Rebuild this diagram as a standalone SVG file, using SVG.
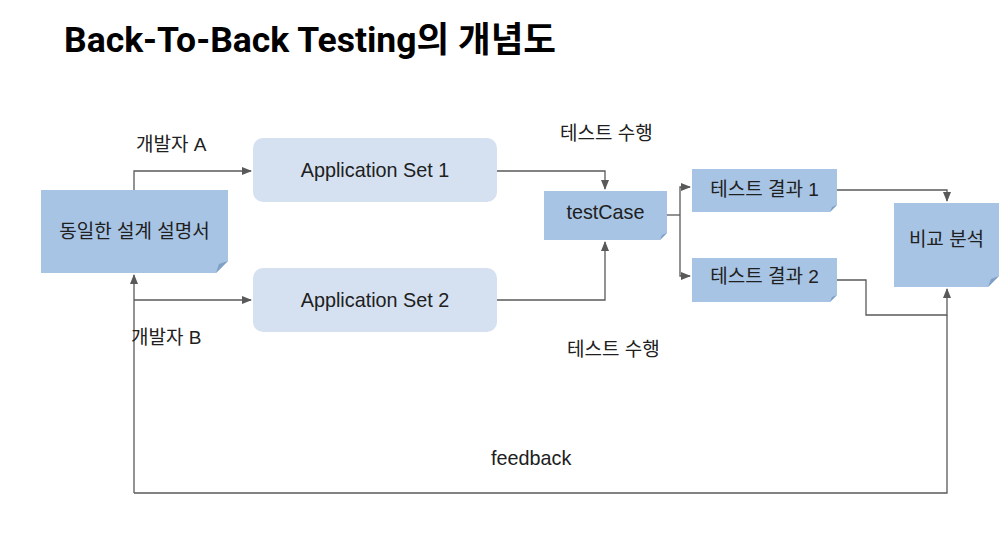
<svg xmlns="http://www.w3.org/2000/svg" width="1000" height="550" viewBox="0 0 1000 550">
<defs>
<marker id="ah" markerWidth="10" markerHeight="10" refX="9" refY="5" orient="auto" markerUnits="userSpaceOnUse">
<path d="M0,1 L10,5 L0,9 Z" fill="#595959"/>
</marker>
<style>
.t{font-family:"Liberation Sans","Noto Sans CJK KR",sans-serif;font-size:19px;fill:#202020}
.l{font-size:19.8px}
.title{font-family:Roboto,"Noto Sans CJK KR",sans-serif;font-size:35.5px;font-weight:bold;fill:#000}
.doc{fill:#a7c4e4}
.fold{fill:#7e9fc6}
.app{fill:#d5e1f1}
.c{fill:none;stroke:#595959;stroke-width:1.3}
</style>
</defs>
<rect width="1000" height="550" fill="#fff"/>
<text class="title" x="64" y="52">Back-To-Back Testing의 개념도</text>

<g id="connectors">
<polyline class="c" points="134,190 134,171 251,171" marker-end="url(#ah)"/>
<polyline class="c" points="134,493 134,275" marker-end="url(#ah)"/>
<polyline class="c" points="134,300 251,300" marker-end="url(#ah)"/>
<polyline class="c" points="497,171 605,171 605,189" marker-end="url(#ah)"/>
<polyline class="c" points="497,300 605,300 605,242" marker-end="url(#ah)"/>
<polyline class="c" points="667,215 680,215"/>
<polyline class="c" points="680,215 680,187 690,187" marker-end="url(#ah)"/>
<polyline class="c" points="680,215 680,276 690,276" marker-end="url(#ah)"/>
<polyline class="c" points="837,190 947,190 947,201" marker-end="url(#ah)"/>
<polyline class="c" points="837,280 866,280 866,315 947,315 947,289" marker-end="url(#ah)"/>
<polyline class="c" points="947,315 947,493 134,493"/>
</g>

<g id="labels">
<text class="t" x="136" y="151">개발자 A</text>
<text class="t" x="131" y="344">개발자 B</text>
<text class="t" x="560" y="140">테스트 수행</text>
<text class="t" x="567" y="356">테스트 수행</text>
<text class="t l" x="491" y="465">feedback</text>
</g>

<g id="spec">
<path class="doc" d="M41,190 H228 V261 L216,273 H41 Z"/>
<path class="fold" d="M228,261 L216,273 L219,264 Z"/>
<text class="t" x="134.5" y="238" text-anchor="middle">동일한 설계 설명서</text>
</g>

<g id="app1">
<rect class="app" x="253" y="138" width="244" height="64" rx="10"/>
<text class="t l" x="375" y="177" text-anchor="middle">Application Set 1</text>
</g>

<g id="app2">
<rect class="app" x="253" y="268" width="244" height="64" rx="10"/>
<text class="t l" x="375" y="307" text-anchor="middle">Application Set 2</text>
</g>

<g id="testcase">
<path class="doc" d="M544,191 H667 V233 L660,240 H544 Z"/>
<path class="fold" d="M667,233 L660,240 L662,235 Z"/>
<text class="t l" x="605.5" y="219" text-anchor="middle">testCase</text>
</g>

<g id="result1">
<path class="doc" d="M692,169 H837 V205 L830,212 H692 Z"/>
<path class="fold" d="M837,205 L830,212 L832,207 Z"/>
<text class="t" x="764.5" y="196" text-anchor="middle">테스트 결과 1</text>
</g>

<g id="result2">
<path class="doc" d="M692,258 H837 V295 L830,302 H692 Z"/>
<path class="fold" d="M837,295 L830,302 L832,297 Z"/>
<text class="t" x="764.5" y="283" text-anchor="middle">테스트 결과 2</text>
</g>

<g id="compare">
<path class="doc" d="M894,203 H999 V276 L988,287 H894 Z"/>
<path class="fold" d="M999,276 L988,287 L991,279 Z"/>
<text class="t" x="946.5" y="246" text-anchor="middle">비교 분석</text>
</g>
</svg>
